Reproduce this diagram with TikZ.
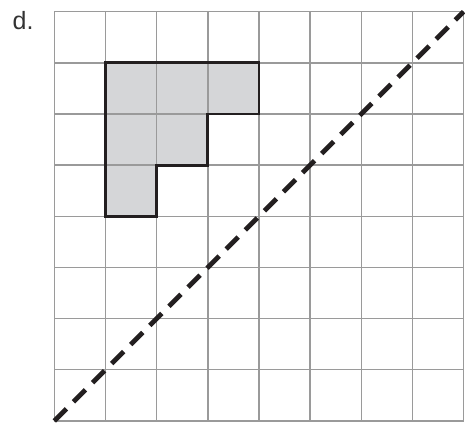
\documentclass[tikz,border=0pt]{standalone}
\usepackage{fontspec}
\setmainfont{Liberation Sans}
\definecolor{gridgray}{HTML}{9A9A9A}
\definecolor{shapefill}{HTML}{D5D6D8}
\definecolor{outline}{HTML}{231F20}
\definecolor{labelcol}{HTML}{333333}
\tikzset{
  gridline/.style={draw=gridgray, line width=1.4pt},
  shapeoutline/.style={draw=outline, line width=2.8pt, line join=miter},
  shapefilled/.style={fill=shapefill},
  diagline/.style={draw=outline, line width=4.8pt, dash pattern=on 17pt off 10pt},
  labeltext/.style={inner sep=0pt, font=\fontsize{25}{29}\selectfont, text=labelcol}
}
\begin{document}
\begin{tikzpicture}[x=1pt,y=1pt]
\useasboundingbox (0,0) rectangle (465,424);
\node[labeltext, anchor=base west] (lbl) at (12.5,394) {d.};
\begin{scope}[shift={(54.4,3.1)}, x=51.15pt, y=51.15pt]
  \fill[shapefilled] (1,7) -- (4,7) -- (4,6) -- (3,6) -- (3,5) -- (2,5) -- (2,4) -- (1,4) -- cycle;
  \draw[gridline, step=51.15pt] (0,0) grid (8,8);
  \draw[shapeoutline] (1,7) -- (4,7) -- (4,6) -- (3,6) -- (3,5) -- (2,5) -- (2,4) -- (1,4) -- cycle;
  \coordinate (dstart) at (0,0);
  \coordinate (dend) at (8,8);
  \draw[diagline] (dstart) -- (dend);
\end{scope}
\end{tikzpicture}
\end{document}
